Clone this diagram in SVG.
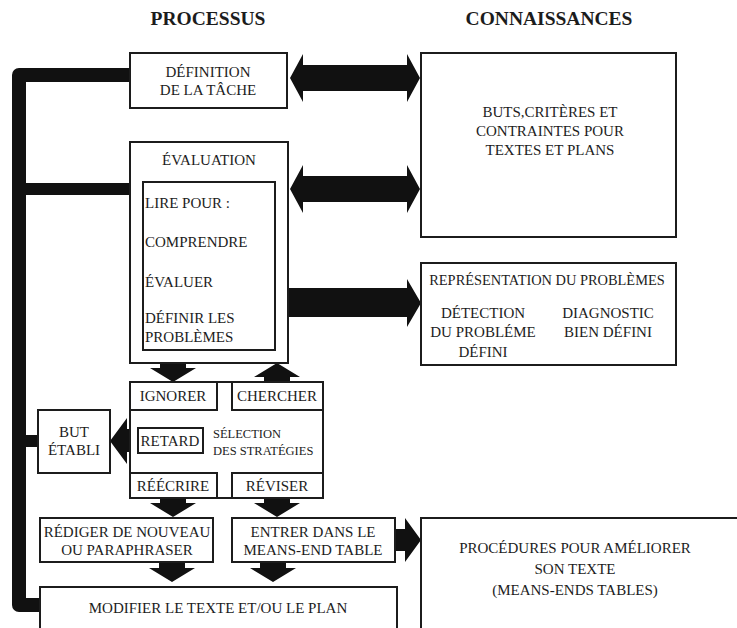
<svg xmlns="http://www.w3.org/2000/svg" xmlns:xlink="http://www.w3.org/1999/xlink" width="737" height="628" viewBox="0 0 737 628">
<style>
  .box { fill: #fff; stroke: #1c1c1c; stroke-width: 2; }
  .t { font-family: 'Liberation Serif', 'Times New Roman', serif; font-size: 15px; fill: #1c1c1c; }
  .c { text-anchor: middle; }
  .h { font-family: 'Liberation Serif', 'Times New Roman', serif; font-size: 19.5px; font-weight: bold; fill: #1c1c1c; text-anchor: middle; }
  .s { font-size: 12.5px; }
  .arr { fill: #111; }
  .bus { fill: none; stroke: #111; stroke-width: 14; stroke-linejoin: round; }
  .branch { fill: none; stroke: #111; stroke-width: 12; }
</style>
<defs>
  <polygon id="dbl" points="0,0 13,-24 13,-13 117,-13 117,-24 130,0 117,24 117,13 13,13 13,24"/>
  <polygon id="down" points="-13,0 13,0 13,5 23,5 0,19 -23,5 -13,5"/>
</defs>
<rect width="737" height="628" fill="#fff"/>

<text class="h" x="208" y="25">PROCESSUS</text>
<text class="h" x="549" y="25">CONNAISSANCES</text>

<g id="connectors">
  <path class="bus" d="M130 75 H19 V605 H41"/>
  <path class="branch" d="M19 189 H131"/>
  <path class="branch" d="M19 441 H39"/>
  <use xlink:href="#dbl" class="arr" x="290" y="78"/>
  <use xlink:href="#dbl" class="arr" x="290" y="189"/>
  <polygon class="arr" points="288,288 407,288 407,279 421,303 407,327 407,317 288,317"/>
  <use xlink:href="#down" class="arr" x="173" y="363"/>
  <polygon class="arr" points="264,382 290,382 290,377 300,377 277,363 254,377 264,377"/>
  <polygon class="arr" points="138,429 127,429 127,418 110,441 127,464 127,452 138,452"/>
  <use xlink:href="#down" class="arr" x="173" y="498"/>
  <use xlink:href="#down" class="arr" x="277" y="498"/>
  <use xlink:href="#down" class="arr" x="172" y="563"/>
  <use xlink:href="#down" class="arr" x="273" y="563"/>
  <polygon class="arr" points="395,529 405,529 405,518 421,540 405,562 405,551 395,551"/>
</g>

<g id="definition">
  <rect class="box" x="130" y="53" width="157" height="55"/>
  <text class="t c" x="208" y="77">DÉFINITION</text>
  <text class="t c" x="208" y="95">DE LA TÂCHE</text>
</g>

<g id="buts">
  <rect class="box" x="421" y="53" width="255" height="184"/>
  <text class="t c" x="550" y="117">BUTS,CRITÈRES ET</text>
  <text class="t c" x="550" y="136">CONTRAINTES POUR</text>
  <text class="t c" x="550" y="155">TEXTES ET PLANS</text>
</g>

<g id="evaluation">
  <rect class="box" x="130" y="142" width="158" height="221"/>
  <text class="t c" x="209" y="165">ÉVALUATION</text>
  <rect class="box" x="143" y="182" width="132" height="168"/>
  <text class="t" x="145" y="208">LIRE POUR :</text>
  <text class="t" x="145" y="247">COMPRENDRE</text>
  <text class="t" x="145" y="287">ÉVALUER</text>
  <text class="t" x="145" y="323">DÉFINIR LES</text>
  <text class="t" x="145" y="342">PROBLÈMES</text>
</g>

<g id="representation">
  <rect class="box" x="421" y="263" width="255" height="102"/>
  <text class="t c" x="547" y="285" style="font-size:14.4px">REPRÉSENTATION DU PROBLÈMES</text>
  <text class="t c" x="483" y="318">DÉTECTION</text>
  <text class="t c" x="483" y="337">DU PROBLÉME</text>
  <text class="t c" x="483" y="357">DÉFINI</text>
  <text class="t c" x="608" y="318">DIAGNOSTIC</text>
  <text class="t c" x="608" y="337">BIEN DÉFINI</text>
</g>

<g id="strategies">
  <rect class="box" x="130" y="382" width="193" height="116"/>
  <text class="t s" x="213" y="438">SÉLECTION</text>
  <text class="t s" x="213" y="455">DES STRATÉGIES</text>
</g>
<g id="ignorer">
  <rect class="box" x="130" y="382" width="87" height="28"/>
  <text class="t c" x="173" y="401">IGNORER</text>
</g>
<g id="chercher">
  <rect class="box" x="232" y="382" width="91" height="28"/>
  <text class="t c" x="277" y="401">CHERCHER</text>
</g>
<g id="retard">
  <rect class="box" x="138" y="428" width="65" height="25"/>
  <text class="t c" x="170" y="446">RETARD</text>
</g>
<g id="reecrire">
  <rect class="box" x="130" y="473" width="87" height="25"/>
  <text class="t c" x="173" y="491">RÉÉCRIRE</text>
</g>
<g id="reviser">
  <rect class="box" x="232" y="473" width="91" height="25"/>
  <text class="t c" x="277" y="491">RÉVISER</text>
</g>

<g id="but">
  <rect class="box" x="38" y="410" width="72" height="63"/>
  <text class="t c" x="74" y="437">BUT</text>
  <text class="t c" x="74" y="455">ÉTABLI</text>
</g>

<g id="rediger">
  <rect class="box" x="40" y="518" width="173" height="44"/>
  <text class="t c" x="127" y="537">RÉDIGER DE NOUVEAU</text>
  <text class="t c" x="127" y="555">OU PARAPHRASER</text>
</g>

<g id="entrer">
  <rect class="box" x="232" y="518" width="163" height="44"/>
  <text class="t c" x="313" y="537">ENTRER DANS LE</text>
  <text class="t c" x="313" y="555">MEANS-END TABLE</text>
</g>

<g id="procedures">
  <rect class="box" x="421" y="518" width="330" height="130"/>
  <text class="t c" x="575" y="553">PROCÉDURES POUR AMÉLIORER</text>
  <text class="t c" x="575" y="574">SON TEXTE</text>
  <text class="t c" x="575" y="595">(MEANS-ENDS TABLES)</text>
</g>

<g id="modifier">
  <rect class="box" x="40" y="587" width="357" height="60"/>
  <text class="t c" x="218" y="613">MODIFIER LE TEXTE ET/OU LE PLAN</text>
</g>
</svg>
